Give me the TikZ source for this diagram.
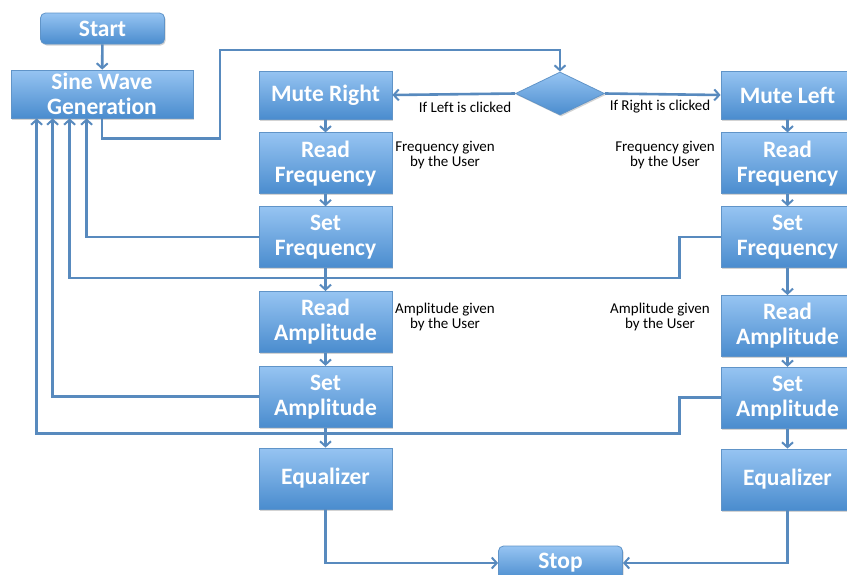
\documentclass[tikz,border=0pt]{standalone}
\usepackage{fontspec}
\setmainfont{Carlito}[Ligatures=NoCommon]
\usetikzlibrary{positioning, arrows.meta, shapes.geometric, shadows}

\definecolor{boxtop}{RGB}{150,196,242}
\definecolor{boxbot}{RGB}{74,140,206}
\definecolor{boxline}{RGB}{96,148,200}
\definecolor{wire}{RGB}{88,138,190}

\begin{document}
\begin{tikzpicture}[
        x=1pt, y=-1pt,
        box/.style={draw=boxline, line width=0.8pt, top color=boxtop, bottom color=boxbot, minimum width=133pt, minimum height=61pt, inner sep=2pt, align=center, text=white, font=\bfseries\fontsize{23.5}{25}\selectfont, drop shadow={shadow xshift=1.2pt, shadow yshift=-1.5pt, opacity=0.35}},
        term/.style={box, rounded corners=5pt, minimum width=124pt, minimum height=31pt},
        decide/.style={draw=boxline, line width=0.8pt, diamond, aspect=2.07, minimum width=89pt, minimum height=43pt, inner sep=0pt, top color=boxtop, bottom color=boxbot, drop shadow={shadow xshift=1.2pt, shadow yshift=-1.5pt, opacity=0.35}},
        note/.style={align=center, font=\fontsize{15}{14.5}\selectfont, inner sep=1pt},
        arrow/.style={-{Straight Barb[length=5pt, width=11pt, line width=2pt]}, line width=2.6pt, draw=wire}
    ]
    \useasboundingbox (0,0) rectangle (847,574);

    \node[term] (Start) at (102.5,28.5) {Start};
    \node[box, minimum width=182pt, minimum height=48pt] (SineWave) at (102,94) {Sine Wave\\Generation};
    \node[decide] (Choice) at (560,93.5) {};

    % left branch
    \node[box, minimum height=48pt] (MuteR) at (325.5,95) {Mute Right};
    \node[box, below=13pt of MuteR] (ReadFreqL) {Read\\Frequency};
    \node[box, below=12pt of ReadFreqL] (SetFreqL) {Set\\Frequency};
    \node[box, below=23pt of SetFreqL] (ReadAmpL) {Read\\Amplitude};
    \node[box, below=13pt of ReadAmpL] (SetAmpL) {Set\\Amplitude};
    \node[box, below=20pt of SetAmpL] (EqL) {Equalizer};

    % right branch
    \node[box, minimum height=48pt] (MuteL) at (787.5,95) {Mute Left};
    \node[box, below=13pt of MuteL] (ReadFreqR) {Read\\Frequency};
    \node[box, below=12pt of ReadFreqR] (SetFreqR) {Set\\Frequency};
    \node[box, below=27pt of SetFreqR] (ReadAmpR) {Read\\Amplitude};
    \node[box, below=10pt of ReadAmpR] (SetAmpR) {Set\\Amplitude};
    \node[box, below=20pt of SetAmpR] (EqR) {Equalizer};

    \node[term, minimum height=34pt] (Stop) at (560.5,563) {Stop};

    \node[note] (lblLeft) at (465,107) {If Left is clicked};
    \node[note] (lblRight) at (660,107) {If Right is clicked};
    \node[note] (noteFreqL) at (445,155) {Frequency given\\by the User};
    \node[note] (noteFreqR) at (665,155) {Frequency given\\by the User};
    \node[note] (noteAmpL) at (445,317) {Amplitude given\\by the User};
    \node[note] (noteAmpR) at (660,317) {Amplitude given\\by the User};

    \coordinate (loopTop) at (560,50);

    \draw[arrow] (Start) -- (SineWave);
    \draw[arrow] (SineWave.south) -- ++(0,20) -- ++(118,0) |- (loopTop) -- (Choice.north);
    \draw[arrow] (Choice.west) -- (MuteR.east);
    \draw[arrow] (Choice.east) -- (MuteL.west);

    \draw[arrow] (MuteR) -- (ReadFreqL);
    \draw[arrow] (ReadFreqL) -- (SetFreqL);
    \draw[arrow] (SetFreqL) -- (ReadAmpL);
    \draw[arrow] (ReadAmpL) -- (SetAmpL);
    \draw[arrow] (SetAmpL) -- (EqL);

    \draw[arrow] (MuteL) -- (ReadFreqR);
    \draw[arrow] (ReadFreqR) -- (SetFreqR);
    \draw[arrow] (SetFreqR) -- (ReadAmpR);
    \draw[arrow] (ReadAmpR) -- (SetAmpR);
    \draw[arrow] (SetAmpR) -- (EqR);

    % back to the generator
    \draw[arrow] (SetFreqL.west) -| ([xshift=76pt]SineWave.south west);
    \draw[arrow] (SetFreqR.west) -- ++(-41,0) -- ++(0,41) -| ([xshift=59pt]SineWave.south west);
    \draw[arrow] (SetAmpL.west) -| ([xshift=42pt]SineWave.south west);
    \draw[arrow] (SetAmpR.west) -- ++(-41,0) -- ++(0,36) -| ([xshift=26pt]SineWave.south west);

    \draw[arrow] (EqL.south) |- (Stop.west);
    \draw[arrow] (EqR.south) |- (Stop.east);

\end{tikzpicture}
\end{document}
